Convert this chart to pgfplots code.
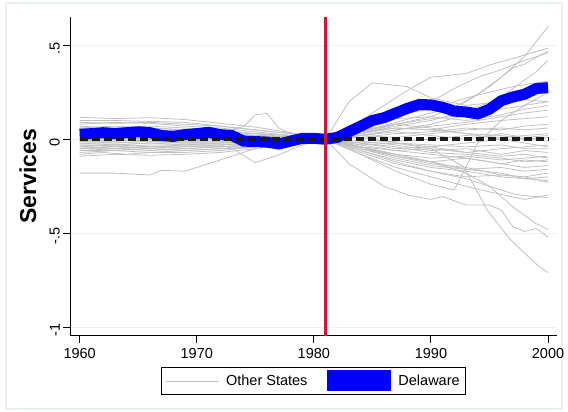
\documentclass[border=0pt]{standalone}
\usepackage{fontspec}
\setmainfont{Liberation Sans}
\usepackage{pgfplots}
\pgfplotsset{compat=1.18}
\definecolor{stgray}{RGB}{192,192,192}
\definecolor{stgrid}{RGB}{234,242,243}
\definecolor{stframe}{RGB}{232,240,242}
\definecolor{stcrimson}{RGB}{210,20,55}
\newcommand{\tickfont}{\fontsize{14.5bp}{17bp}\selectfont}
\pgfplotsset{gl/.style={stgray, line width=0.8bp, forget plot}}

\begin{document}
\begin{tikzpicture}
\useasboundingbox (0bp,0bp) rectangle (568bp,412bp);
\draw[stframe, line width=1.5bp] (6bp,3bp) rectangle (562bp,409bp);
\begin{axis}[
  at={(70.3bp,76.3bp)}, anchor=south west,
  scale only axis, width=486.4bp, height=318.4bp,
  xmin=1959.2, xmax=2000.74, ymin=-1.045, ymax=0.649,
  axis x line*=bottom, axis y line*=left,
  axis line style={line width=1bp, -},
  tick align=outside, major tick length=7bp,
  tick style={black, line width=1bp},
  xtick={1960,1970,1980,1990,2000},
  xticklabels={1960,1970,1980,1990,2000},
  ytick={-1,-0.5,0,0.5}, yticklabels={-1,-.5,0,.5},
  /pgf/number format/assume math mode=true,
  xticklabel style={font=\tickfont, yshift=-2bp},
  yticklabel style={font=\tickfont, rotate=90, anchor=south, xshift=-3bp},
  ymajorgrids, grid style={stgrid, line width=1bp},
  ylabel={Services},
  ylabel style={font=\fontsize{23bp}{27bp}\selectfont\bfseries, at={(axis description cs:-0.087,0.5)}, anchor=center, inner sep=0pt},
  legend columns=2,
  legend cell align=left,
  legend style={at={(0.5,-0.142)}, anchor=center, draw=black, line width=0.8bp,
    font=\tickfont, inner xsep=4bp, inner ysep=3bp,
    /tikz/every odd column/.append style={column sep=5bp},
    /tikz/every even column/.append style={column sep=18bp}},
]
% other states
\addplot[stgray, line width=0.8bp, legend image code/.code={\draw[stgray, line width=0.8bp] (0bp,0bp) -- (53bp,0bp);}] coordinates {(1960,0.05)(1963,0.06)(1966,0.05)(1969,0.045)(1972,0.03)(1975,0.02)(1978,0.01)(1981,0)(1984,0.04)(1987,0.09)(1990,0.14)(1992,0.17)(1994,0.24)(1996,0.33)(1998,0.44)(2000,0.60)};
\addlegendentry{Other States}
\addplot[gl] coordinates {(1960,0.08)(1963,0.09)(1966,0.085)(1969,0.07)(1972,0.06)(1975,0.04)(1978,0.02)(1981,0)(1983,0.06)(1985,0.14)(1988,0.26)(1990,0.33)(1993,0.35)(1995,0.395)(1997,0.43)(2000,0.485)};
\addplot[gl] coordinates {(1960,0.117)(1963,0.11)(1966,0.115)(1969,0.105)(1972,0.085)(1975,0.065)(1978,0.035)(1981,0)(1983,0.2)(1985,0.30)(1988,0.28)(1990,0.22)(1993,0.18)(1996,0.20)(1998,0.21)(2000,0.20)};
\addplot[gl] coordinates {(1960,0.10)(1963,0.10)(1966,0.095)(1969,0.09)(1972,0.07)(1975,0.05)(1978,0.03)(1981,0)(1984,0.03)(1987,0.08)(1990,0.12)(1993,0.20)(1995,0.28)(1997,0.38)(1998,0.40)(2000,0.47)};
\addplot[gl] coordinates {(1960,0.02)(1963,0.03)(1966,0.02)(1969,0.02)(1972,0.01)(1975,0.01)(1978,0.0)(1981,0)(1984,0.05)(1987,0.12)(1990,0.20)(1992,0.27)(1994,0.33)(1996,0.37)(1998,0.42)(2000,0.46)};
\addplot[gl] coordinates {(1960,0.07)(1963,0.06)(1966,0.07)(1969,0.06)(1972,0.05)(1975,0.03)(1978,0.02)(1981,0)(1984,0.02)(1987,0.05)(1990,0.08)(1993,0.13)(1995,0.18)(1997,0.27)(1999,0.36)(2000,0.42)};
\addplot[gl] coordinates {(1960,0.06)(1963,0.07)(1966,0.06)(1969,0.05)(1972,0.04)(1975,0.03)(1978,0.02)(1981,0)(1984,0.06)(1987,0.13)(1990,0.16)(1993,0.22)(1995,0.25)(1997,0.28)(2000,0.31)};
\addplot[gl] coordinates {(1960,-0.01)(1963,0.0)(1966,-0.01)(1969,0.0)(1972,0.0)(1975,-0.01)(1978,0.0)(1981,0)(1984,0.03)(1987,0.07)(1990,0.10)(1993,0.15)(1996,0.22)(1998,0.26)(2000,0.29)};
\addplot[gl] coordinates {(1960,0.04)(1963,0.05)(1966,0.04)(1969,0.04)(1972,0.03)(1975,0.02)(1978,0.01)(1981,0)(1984,0.04)(1987,0.08)(1990,0.11)(1993,0.13)(1996,0.16)(1998,0.18)(2000,0.20)};
\addplot[gl] coordinates {(1960,0.03)(1963,0.02)(1966,0.03)(1969,0.02)(1972,0.02)(1975,0.01)(1978,0.0)(1981,0)(1984,0.07)(1987,0.11)(1990,0.12)(1993,0.10)(1996,0.13)(1998,0.16)(2000,0.18)};
\addplot[gl] coordinates {(1960,-0.02)(1963,-0.02)(1966,-0.01)(1969,-0.02)(1972,-0.01)(1975,-0.01)(1978,0.0)(1981,0)(1984,0.02)(1987,0.05)(1990,0.07)(1993,0.09)(1996,0.12)(1998,0.14)(2000,0.155)};
\addplot[gl] coordinates {(1960,0.01)(1963,0.0)(1966,0.01)(1969,0.0)(1972,0.01)(1975,0.0)(1978,0.0)(1981,0)(1984,0.03)(1987,0.06)(1990,0.05)(1993,0.08)(1996,0.10)(1998,0.11)(2000,0.12)};
\addplot[gl] coordinates {(1960,-0.03)(1963,-0.04)(1966,-0.03)(1969,-0.03)(1972,-0.02)(1975,-0.02)(1978,-0.01)(1981,0)(1984,0.01)(1987,0.03)(1990,0.04)(1993,0.06)(1996,0.05)(1998,0.07)(2000,0.08)};
\addplot[gl] coordinates {(1960,0.0)(1963,0.01)(1966,0.0)(1969,0.01)(1972,0.0)(1975,0.0)(1978,-0.01)(1981,0)(1984,0.02)(1987,0.01)(1990,0.03)(1993,0.05)(1996,0.06)(1998,0.05)(2000,0.06)};
\addplot[gl] coordinates {(1960,-0.05)(1963,-0.05)(1966,-0.04)(1969,-0.05)(1972,-0.04)(1975,-0.03)(1978,-0.02)(1981,0)(1984,-0.08)(1987,-0.17)(1990,-0.24)(1992,-0.27)(1994,-0.02)(1996,0.10)(1998,0.18)(2000,0.25)};
\addplot[gl] coordinates {(1960,0.05)(1963,0.04)(1966,0.05)(1969,0.04)(1972,0.03)(1975,0.02)(1978,0.01)(1981,0)(1984,-0.02)(1987,-0.01)(1990,0.0)(1993,0.02)(1996,0.01)(1998,0.02)(2000,0.03)};
\addplot[gl] coordinates {(1960,-0.04)(1963,-0.03)(1966,-0.04)(1969,-0.03)(1972,-0.03)(1975,-0.02)(1978,-0.01)(1981,0)(1984,-0.03)(1987,-0.02)(1990,-0.04)(1993,-0.02)(1996,0.0)(1998,0.0)(2000,0.01)};
\addplot[gl] coordinates {(1960,0.09)(1963,0.085)(1966,0.09)(1969,0.08)(1972,0.07)(1975,0.05)(1978,0.03)(1981,0)(1984,0.04)(1987,0.06)(1990,0.05)(1993,0.03)(1996,0.02)(1998,0.0)(2000,-0.01)};
\addplot[gl] coordinates {(1960,-0.06)(1963,-0.06)(1966,-0.05)(1969,-0.06)(1972,-0.05)(1975,-0.04)(1978,-0.02)(1981,0)(1984,-0.04)(1987,-0.06)(1990,-0.05)(1993,-0.07)(1996,-0.05)(1998,-0.04)(2000,-0.03)};
\addplot[gl] coordinates {(1960,0.0)(1963,-0.01)(1966,0.0)(1969,-0.01)(1972,-0.01)(1975,0.0)(1978,0.0)(1981,0)(1984,0.01)(1987,-0.02)(1990,-0.03)(1993,-0.04)(1996,-0.03)(1998,-0.05)(2000,-0.05)};
\addplot[gl] coordinates {(1960,0.03)(1963,0.03)(1966,0.02)(1969,0.03)(1972,0.02)(1975,0.02)(1978,0.01)(1981,0)(1984,-0.01)(1987,-0.03)(1990,-0.06)(1993,-0.05)(1996,-0.08)(1998,-0.06)(2000,-0.07)};
\addplot[gl] coordinates {(1960,-0.02)(1963,-0.03)(1966,-0.02)(1969,-0.02)(1972,-0.02)(1975,-0.01)(1978,-0.01)(1981,0)(1984,-0.05)(1987,-0.08)(1990,-0.10)(1993,-0.09)(1996,-0.11)(1998,-0.10)(2000,-0.09)};
\addplot[gl] coordinates {(1960,0.02)(1963,0.03)(1966,0.02)(1969,0.03)(1972,0.04)(1974,0.067)(1975,0.13)(1976,0.138)(1977,0.06)(1978,0.03)(1981,0)(1984,-0.02)(1987,-0.05)(1990,-0.04)(1993,-0.07)(1996,-0.09)(1998,-0.08)(2000,-0.10)};
\addplot[gl] coordinates {(1960,-0.03)(1963,-0.03)(1966,-0.02)(1969,-0.03)(1972,-0.03)(1973,-0.048)(1975,-0.124)(1977,-0.083)(1979,-0.03)(1981,0)(1984,-0.03)(1987,-0.06)(1990,-0.08)(1993,-0.1)(1996,-0.13)(1998,-0.11)(2000,-0.12)};
\addplot[gl] coordinates {(1960,-0.08)(1962,-0.07)(1964,-0.08)(1966,-0.07)(1969,-0.07)(1972,-0.06)(1975,-0.04)(1978,-0.02)(1981,0)(1984,-0.04)(1987,-0.08)(1990,-0.12)(1993,-0.1)(1996,-0.13)(1998,-0.15)(2000,-0.14)};
\addplot[gl] coordinates {(1960,0.01)(1963,0.02)(1966,0.01)(1969,0.01)(1972,0.0)(1975,0.0)(1978,0.0)(1981,0)(1984,-0.05)(1987,-0.1)(1990,-0.14)(1993,-0.16)(1996,-0.15)(1998,-0.17)(2000,-0.16)};
\addplot[gl] coordinates {(1960,-0.18)(1963,-0.18)(1966,-0.19)(1967,-0.165)(1969,-0.17)(1970,-0.15)(1973,-0.09)(1975,-0.05)(1978,-0.02)(1981,0)(1984,-0.07)(1987,-0.13)(1990,-0.17)(1993,-0.2)(1996,-0.19)(1998,-0.2)(2000,-0.18)};
\addplot[gl] coordinates {(1960,0.06)(1963,0.05)(1966,0.06)(1969,0.05)(1972,0.04)(1975,0.03)(1978,0.01)(1981,0)(1984,-0.05)(1987,-0.09)(1990,-0.12)(1993,-0.16)(1996,-0.18)(1998,-0.21)(2000,-0.20)};
\addplot[gl] coordinates {(1960,-0.05)(1963,-0.04)(1966,-0.05)(1969,-0.04)(1972,-0.04)(1975,-0.03)(1978,-0.01)(1981,0)(1984,-0.06)(1987,-0.11)(1990,-0.15)(1993,-0.17)(1996,-0.2)(1998,-0.21)(2000,-0.22)};
\addplot[gl] coordinates {(1960,-0.01)(1963,-0.01)(1966,0.0)(1969,-0.01)(1972,0.0)(1975,0.0)(1978,0.0)(1981,0)(1984,-0.04)(1987,-0.09)(1990,-0.13)(1993,-0.15)(1996,-0.19)(1998,-0.2)(2000,-0.23)};
\addplot[gl] coordinates {(1960,0.04)(1963,0.04)(1966,0.03)(1969,0.04)(1972,0.03)(1975,0.02)(1978,0.01)(1981,0)(1984,-0.06)(1987,-0.12)(1990,-0.17)(1993,-0.21)(1995,-0.25)(1997,-0.29)(1998,-0.3)(2000,-0.31)};
\addplot[gl] coordinates {(1960,-0.07)(1963,-0.06)(1966,-0.07)(1969,-0.06)(1972,-0.05)(1975,-0.04)(1978,-0.02)(1981,0)(1984,-0.08)(1987,-0.15)(1990,-0.2)(1993,-0.25)(1995,-0.28)(1998,-0.32)(2000,-0.296)};
\addplot[gl] coordinates {(1960,-0.09)(1963,-0.08)(1966,-0.085)(1969,-0.08)(1972,-0.07)(1975,-0.05)(1978,-0.03)(1981,0)(1983,-0.13)(1986,-0.25)(1988,-0.296)(1990,-0.32)(1991,-0.305)(1993,-0.35)(1995,-0.35)(1996,-0.376)(1997,-0.465)(1998,-0.49)(1999,-0.475)(2000,-0.52)};
\addplot[gl] coordinates {(1960,0.0)(1963,0.01)(1966,0.0)(1969,0.0)(1972,0.0)(1975,0.0)(1978,0.0)(1981,0)(1984,-0.04)(1987,-0.08)(1990,-0.12)(1993,-0.18)(1995,-0.25)(1997,-0.36)(1999,-0.45)(2000,-0.48)};
\addplot[gl] coordinates {(1960,-0.04)(1963,-0.05)(1966,-0.04)(1969,-0.04)(1972,-0.03)(1975,-0.02)(1978,-0.01)(1981,0)(1984,0.01)(1987,-0.02)(1990,-0.05)(1992.8,-0.146)(1994.8,-0.376)(1996.8,-0.535)(1999.1,-0.67)(2000,-0.71)};
\addplot[gl] coordinates {(1960,-0.06)(1963,-0.05)(1966,-0.06)(1969,-0.05)(1972,-0.04)(1975,-0.03)(1978,-0.02)(1981,0)(1984,0.02)(1987,0.04)(1990,0.02)(1993,0.0)(1996,0.03)(1998,0.01)(2000,0.02)};
\addplot[gl] coordinates {(1960,0.02)(1963,0.01)(1966,0.02)(1969,0.01)(1972,0.01)(1975,0.0)(1978,0.0)(1981,0)(1984,0.05)(1987,0.08)(1990,0.06)(1993,0.03)(1996,0.0)(1998,-0.02)(2000,-0.04)};
\addplot[gl] coordinates {(1960,-0.01)(1963,-0.02)(1966,-0.01)(1969,-0.02)(1972,-0.02)(1975,-0.01)(1978,0.0)(1981,0)(1984,-0.02)(1987,-0.04)(1990,-0.07)(1993,-0.08)(1996,-0.1)(1998,-0.12)(2000,-0.11)};
% Delaware
\addplot[blue, line width=11bp, legend image code/.code={\fill[blue] (0bp,-5bp) rectangle (53bp,5bp);}] coordinates {
(1960,0.027)(1961,0.03)(1962,0.035)(1963,0.03)(1964,0.035)(1965,0.04)(1966,0.035)(1967,0.02)(1968,0.015)(1969,0.025)
(1970,0.03)(1971,0.037)(1972,0.025)(1973,0.02)(1974,-0.01)(1975,-0.012)(1976,-0.015)(1977,-0.025)(1978,-0.01)(1979,0.005)
(1980,0.005)(1981,0)(1982,0.01)(1983,0.04)(1984,0.07)(1985,0.1)(1986,0.115)(1987,0.14)(1988,0.165)(1989,0.185)
(1990,0.183)(1991,0.17)(1992,0.15)(1993,0.145)(1994,0.135)(1995,0.16)(1996,0.205)(1997,0.225)(1998,0.24)(1999,0.27)(2000,0.275)};
\addlegendentry{Delaware}
% zero line
\addplot[color={rgb,255:red,26;green,26;blue,26}, line width=4bp, dash pattern=on 8bp off 4bp, forget plot] coordinates {(1960,0)(2000,0)};
% treatment year
\draw[stcrimson, line width=2.4bp] (axis cs:1981,-1.045) -- (axis cs:1981,0.649);
\end{axis}
\end{tikzpicture}
\end{document}
